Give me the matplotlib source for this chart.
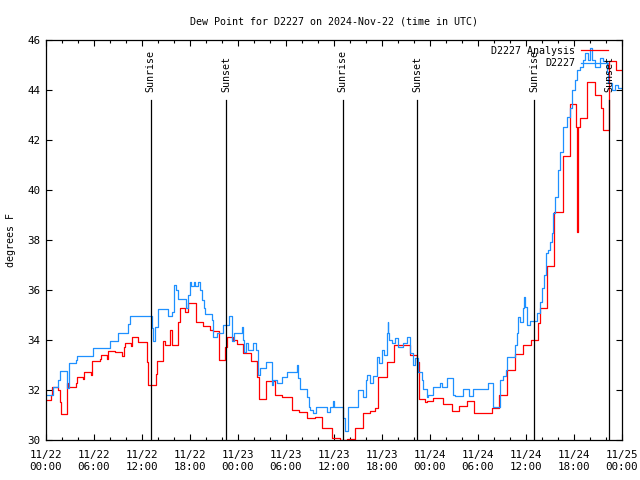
import matplotlib
matplotlib.use("Agg")
import matplotlib.pyplot as plt
from matplotlib.ticker import MultipleLocator

# hours since 2024-11-22 00:00 UTC, step ("post") series
analysis_hours = [0.08, 0.63, 0.75, 1.54, 1.75, 1.83, 2.58, 2.79, 3.71, 3.83, 4.67, 4.79,
                  5.58, 5.79, 6.75, 6.88, 7.58, 7.79, 8.63, 9.46, 9.75, 9.88, 10.58, 10.79,
                  11.54, 12.67, 12.79, 13.71, 13.83, 14.67, 14.88, 15.5, 15.71, 16.54, 16.75,
                  17.38, 17.79, 18.75, 19.67, 20.5, 20.92, 21.63, 22.38, 22.58, 23.42, 23.83,
                  24.67, 25.58, 26.42, 26.67, 27.5, 28.63, 29.46, 30.71, 31.67, 32.67, 33.63,
                  34.54, 35.71, 36.75, 37.58, 38.63, 39.67, 40.5, 41.13, 41.54, 42.67, 43.54,
                  45.5, 46.42, 46.67, 47.38, 47.58, 48.42, 49.67, 50.7, 51.67, 52.58, 53.5,
                  54.58, 55.7, 56.67, 57.58, 58.63, 59.67, 60.58, 61.54, 61.75, 62.58, 63.54,
                  64.6, 65.5, 66.25, 66.42, 66.5, 66.75, 67.58, 68.6, 69.4, 69.67, 70.42,
                  71.25, 72.0]
analysis_vals = [31.6, 31.8, 32.13, 32.0, 31.5, 31.03, 32.27, 32.1, 32.3, 32.5, 32.45, 32.7,
                 32.6, 33.16, 33.25, 33.39, 33.25, 33.55, 33.5, 33.35, 33.7, 33.87, 33.75, 34.13,
                 33.9, 33.1, 32.19, 32.65, 33.16, 33.96, 33.8, 34.4, 33.8, 34.7, 35.27,
                 35.1, 35.47, 34.7, 34.56, 34.4, 34.35, 33.2, 33.7, 34.1, 34.0, 33.84,
                 33.49, 33.17, 32.53, 31.63, 32.36, 31.8, 31.72, 31.2, 31.13, 30.87, 30.93,
                 30.47, 30.07, 30.0, 30.03, 30.49, 31.07, 31.16, 31.27, 32.51, 33.11, 33.8,
                 33.4, 33.13, 31.63, 31.5, 31.57, 31.67, 31.43, 31.16, 31.36, 31.56, 31.09,
                 31.07, 31.29, 31.8, 32.78, 33.44, 33.8, 34.0, 34.67, 35.27, 36.96, 39.1,
                 41.36, 43.44, 42.5, 38.3, 42.5, 42.87, 44.33, 43.8, 43.3, 42.4, 45.16,
                 44.8, 44.8]

obs_hours = [0.08, 0.83, 1.54, 1.75, 2.58, 2.92, 3.75, 3.92, 5.92, 8.0, 9.04, 10.3, 10.5,
             13.3, 13.42, 13.6, 14.0, 15.3, 15.7, 16.0, 16.3, 16.5, 17.5, 17.71, 17.96,
             18.13, 18.46, 18.67, 18.96, 19.29, 19.5, 19.71, 19.92, 20.7, 20.92, 21.33,
             22.17, 22.88, 23.2, 23.5, 24.46, 24.58, 24.75, 25.0, 25.29, 25.83, 26.25,
             26.46, 26.75, 27.46, 28.2, 28.42, 28.83, 29.46, 30.08, 31.33, 31.54, 31.75,
             32.67, 32.83, 33.0, 33.42, 33.75, 35.08, 35.5, 35.92, 36.04, 37.17, 37.38,
             37.79, 39.04, 39.67, 39.96, 40.17, 40.5, 40.92, 41.33, 41.67, 41.96, 42.25,
             42.58, 42.7, 42.8, 42.92, 43.2, 43.63, 44.04, 44.67, 45.08, 45.5, 45.83, 46.13, 46.54,
             46.96, 47.17, 47.58, 47.8, 48.42, 49.25, 49.46, 50.08, 50.83, 51.13, 52.17,
             52.92, 53.33, 55.29, 55.83, 56.75, 57.08, 57.5, 57.67, 58.63, 58.83, 59.04,
             59.25, 59.58, 59.75, 59.88, 60.17, 60.5, 61.33, 61.75, 62.04, 62.29, 62.5,
             62.79, 63.0, 63.2, 63.33, 63.6, 64.0, 64.25, 64.67, 65.08, 65.5, 65.7, 66.1,
             66.4, 66.75, 67.1, 67.4, 67.8, 68.0, 68.2, 68.6, 69.25, 69.67, 70.08, 70.3,
             70.7, 71.1, 71.5, 72.0]
obs_vals = [31.8, 32.1, 32.4, 32.76, 32.07, 33.07, 33.2, 33.35, 33.67, 33.96, 34.27, 34.63, 34.96,
            34.47, 33.96, 34.5, 35.25, 34.96, 35.1, 36.2, 36.0, 35.64, 35.3, 35.8, 36.33,
            36.15, 36.33, 36.15, 36.33, 36.0, 35.6, 35.3, 35.03, 34.8, 34.1, 34.3,
            34.6, 34.96, 33.96, 34.27, 34.5, 34.0, 33.53, 33.87, 33.6, 33.87, 33.6,
            32.6, 32.87, 33.13, 32.2, 32.4, 32.27, 32.53, 32.73, 33.0, 32.47, 32.03,
            31.73, 31.33, 31.2, 31.07, 31.3, 31.13, 31.3, 31.56, 31.3, 30.87, 30.36,
            31.3, 32.0, 31.73, 32.4, 32.6, 32.27, 32.56, 33.33, 33.07, 33.6, 33.4,
            34.27, 34.7, 34.27, 34.0, 33.87, 34.07, 33.73, 33.87, 34.13, 33.47, 33.0, 33.27, 32.73,
            32.4, 32.03, 31.7, 31.8, 32.13, 32.3, 32.1, 32.47, 31.8, 31.76, 32.03,
            31.76, 32.03, 32.29, 31.33, 32.4, 32.56, 32.8, 33.33, 33.8, 34.3, 34.93,
            34.73, 35.27, 35.73, 35.33, 34.6, 34.76, 35.07, 35.53, 36.07, 36.6, 37.47,
            37.6, 37.93, 38.27, 39.07, 39.7, 40.8, 41.5, 42.5, 42.9, 43.3, 44.0, 44.4,
            44.8, 44.9, 45.2, 45.47, 45.2, 45.67, 45.2, 44.93, 45.27, 45.15, 44.7, 44.27,
            44.0, 44.2, 44.07, 44.07]

sun_hours = [13.1, 22.5, 37.1, 46.4, 61.0, 70.4]
sun_labels = ["Sunrise", "Sunset", "Sunrise", "Sunset", "Sunrise", "Sunset"]

tick_hours = list(range(0, 73, 6))
tick_labels = ["11/22\n00:00", "11/22\n06:00", "11/22\n12:00", "11/22\n18:00",
               "11/23\n00:00", "11/23\n06:00", "11/23\n12:00", "11/23\n18:00",
               "11/24\n00:00", "11/24\n06:00", "11/24\n12:00", "11/24\n18:00",
               "11/25\n00:00"]

plt.rcParams["font.family"] = ["DejaVu Sans Mono"]
plt.rcParams["font.size"] = 7.2

fig = plt.figure(figsize=(6.4, 4.8), dpi=100)
ax = fig.add_axes([46 / 640, 1 - 440 / 480, 576 / 640, 400 / 480])

ax.step(analysis_hours, analysis_vals, where="post", color="#ff0000", lw=0.9,
        label="D2227 Analysis")
ax.step(obs_hours, obs_vals, where="post", color="#1e90ff", lw=0.9, label="D2227")

for h, name in zip(sun_hours, sun_labels):
    ax.plot([h, h], [30, 43.6], color="black", lw=0.9)
    ax.text(h, 43.9, name, rotation=90, ha="center", va="bottom")

ax.set_xlim(0, 72)
ax.set_ylim(30, 46)
ax.set_xticks(tick_hours, tick_labels)
ax.xaxis.set_minor_locator(MultipleLocator(2))
ax.yaxis.set_major_locator(MultipleLocator(2))
ax.tick_params(which="both", direction="in", top=True, right=True, width=0.8)
ax.tick_params(which="major", length=4.5, labelsize=7.8)
ax.tick_params(axis="x", which="major", pad=7.5)
ax.tick_params(axis="y", which="major", pad=4)
ax.tick_params(which="minor", length=2.5)
for spine in ax.spines.values():
    spine.set_linewidth(0.9)

ax.set_title("Dew Point for D2227 on 2024-Nov-22 (time in UTC)", fontsize=7.2, pad=11)
ax.set_ylabel("degrees F", labelpad=8)

ax.legend(loc="upper right", frameon=False, markerfirst=False, handlelength=2.7,
          borderaxespad=0.2, labelspacing=0.25, handletextpad=0.6,
          bbox_to_anchor=(0.986, 1.0))

fig.savefig("out.png", dpi=100, facecolor="white")
